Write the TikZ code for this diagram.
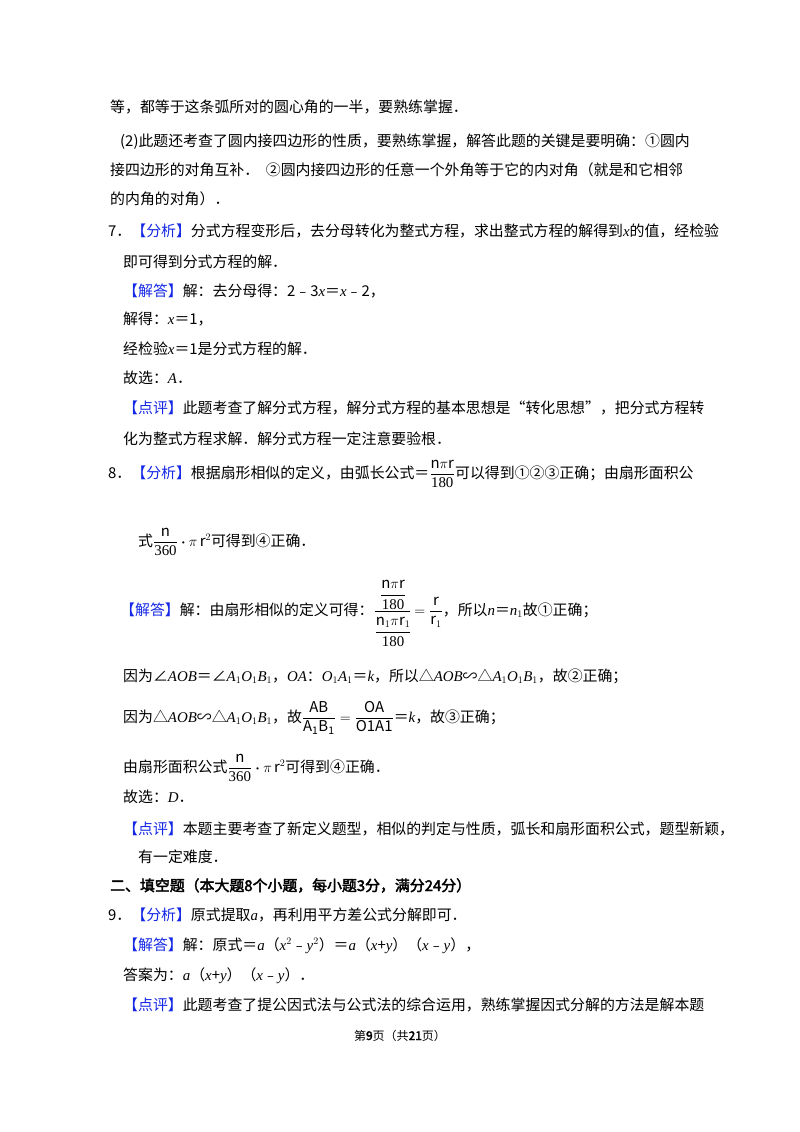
\documentclass[tikz,border=0pt]{standalone}
\usepackage{amsmath,amssymb}
\usepackage{fontspec}
\setmainfont{Noto Sans CJK SC}
\newfontfamily\cjkb[FakeBold=2.5]{Noto Sans CJK SC}
\newfontfamily\ser{Liberation Serif}
\definecolor{lblue}{RGB}{20,40,230}
\newcommand{\fx}[1]{\textcolor{lblue}{【#1】}}
\newcommand{\iv}[1]{{\ser\itshape #1}}
\newcommand{\tn}[1]{\text{\ser #1}}
\begin{document}
\begin{tikzpicture}[x=1pt,y=-1pt,
  T/.style={anchor=base west,inner sep=0pt,font=\fontsize{14.9}{17}\selectfont}]
\useasboundingbox[fill=white] (0,0) rectangle (800,1132);
\node[T] (l1) at (110,112) {等，都等于这条弧所对的圆心角的一半，要熟练掌握．};
\node[T] (l2) at (120,146) {(2)此题还考查了圆内接四边形的性质，要熟练掌握，解答此题的关键是要明确：①圆内};
\node[T] (l3) at (110,175) {接四边形的对角互补．\ \ ②圆内接四边形的任意一个外角等于它的内对角（就是和它相邻};
\node[T] (l4) at (110,204) {的内角的对角）．};
\node[T] (l5) at (108,236) {7．\fx{分析}分式方程变形后，去分母转化为整式方程，求出整式方程的解得到\iv{x}的值，经检验};
\node[T] (l6) at (123,267) {即可得到分式方程的解．};
\node[T] (l7) at (123,296) {\fx{解答}解：去分母得：2﹣3\iv{x}＝\iv{x}﹣2，};
\node[T] (l8) at (123,324) {解得：\iv{x}＝1，};
\node[T] (l9) at (123,354) {经检验\iv{x}＝1是分式方程的解．};
\node[T] (l10) at (123,383) {故选：\iv{A}．};
\node[T] (l11) at (123,413) {\fx{点评}此题考查了解分式方程，解分式方程的基本思想是“转化思想”，把分式方程转};
\node[T] (l12) at (123,444) {化为整式方程求解．解分式方程一定注意要验根．};
\node[T] (l13) at (108,478) {8．\fx{分析}根据扇形相似的定义，由弧长公式＝$\dfrac{\mathrm{n}\pi \mathrm{r}}{\tn{180}}$可以得到①②③正确；由扇形面积公};
\node[T] (l14) at (138,546) {式$\dfrac{\mathrm{n}}{\tn{360}}\boldsymbol{\cdot}\pi\,\mathrm{r}^{2}$可得到④正确．};
\node[T] (l15) at (120,615) {\fx{解答}解：由扇形相似的定义可得：$\cfrac{\ \cfrac{\mathrm{n}\pi\mathrm{r}}{\tn{180}}\ }{\cfrac{\mathrm{n}_1\pi\mathrm{r}_1}{\tn{180}}}=\dfrac{\mathrm{r}}{\mathrm{r}_1}$，所以\iv{n}＝\iv{n}$_1$故①正确；};
\node[T] (l16) at (123,681) {因为∠\iv{AOB}＝∠\iv{A}$_1$\iv{O}$_1$\iv{B}$_1$，\iv{OA}：\iv{O}$_1$\iv{A}$_1$＝\iv{k}，所以△\iv{AOB}∽△\iv{A}$_1$\iv{O}$_1$\iv{B}$_1$，故②正确；};
\node[T] (l17) at (123,722) {因为△\iv{AOB}∽△\iv{A}$_1$\iv{O}$_1$\iv{B}$_1$，故$\dfrac{\mathrm{AB}}{\mathrm{A_1B_1}}=\dfrac{\mathrm{OA}}{\mathrm{O1A1}}$＝\iv{k}，故③正确；};
\node[T] (l18) at (123,772) {由扇形面积公式$\dfrac{\mathrm{n}}{\tn{360}}\boldsymbol{\cdot}\pi\,\mathrm{r}^{2}$可得到④正确．};
\node[T] (l19) at (123,802) {故选：\iv{D}．};
\node[T] (l20) at (123,834) {\fx{点评}本题主要考查了新定义题型，相似的判定与性质，弧长和扇形面积公式，题型新颖，};
\node[T] (l21) at (138,862) {有一定难度．};
\node[T,font=\fontsize{14.9}{17}\cjkb] (l22) at (110,891) {二、填空题（本大题8个小题，每小题3分，满分24分）};
\node[T] (l23) at (108,920) {9．\fx{分析}原式提取\iv{a}，再利用平方差公式分解即可．};
\node[T] (l24) at (123,950) {\fx{解答}解：原式＝\iv{a}（\iv{x}$^2$﹣\iv{y}$^2$）＝\iv{a}（\iv{x}+\iv{y}）（\iv{x}﹣\iv{y}），};
\node[T] (l25) at (123,980) {答案为：\iv{a}（\iv{x}+\iv{y}）（\iv{x}﹣\iv{y}）．};
\node[T] (l26) at (123,1010) {\fx{点评}此题考查了提公因式法与公式法的综合运用，熟练掌握因式分解的方法是解本题};
\node[T,anchor=base,font=\fontsize{12}{14}\selectfont] (ft) at (400,1040) {第{\cjkb 9}页（共{\cjkb 21}页）};
\end{tikzpicture}
\end{document}
